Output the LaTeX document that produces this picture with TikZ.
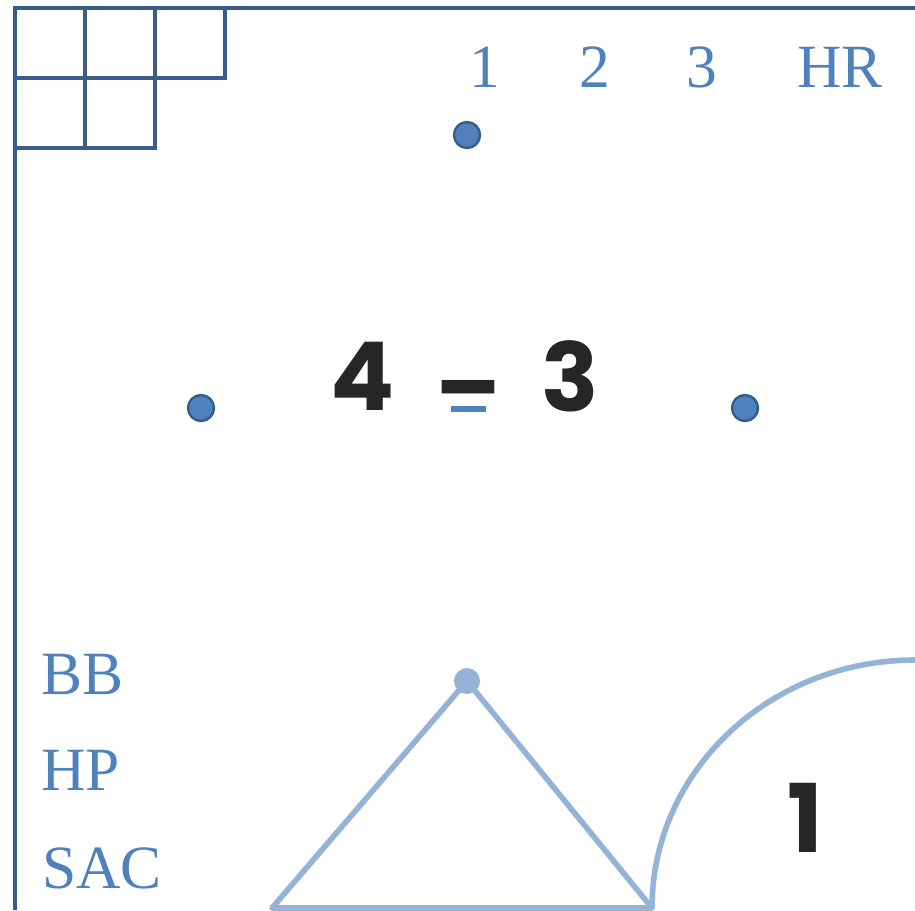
\documentclass[tikz,border=0pt]{standalone}
\usepackage{fontspec}
\setmainfont{Liberation Serif}
\newfontfamily\handfont{Poppins}
\definecolor{labelblue}{HTML}{4F81BD}
\definecolor{frameblue}{HTML}{385D8A}
\definecolor{paleblue}{HTML}{95B3D7}
\begin{document}
\begin{tikzpicture}[x=0.02cm,y=-0.02cm,
  lbl/.style={font=\fontsize{35}{40}\selectfont,text=labelblue,inner sep=0pt,anchor=base},
  hand/.style={font=\handfont\bfseries\fontsize{54}{60}\selectfont,text=black!85,inner sep=0pt},
  dot/.style={circle,fill=labelblue,draw=frameblue,line width=1.4pt,minimum size=0.52cm,inner sep=0pt},
  frame/.style={draw=frameblue,line width=2pt},
  pale/.style={draw=paleblue,line width=3.2pt}]
\useasboundingbox (0,0) rectangle (915,910);
% frame and grid
\draw[frame] (15,910) -- (15,8) -- (915,8);
\draw[frame] (15,78) -- (225,78) -- (225,8);
\draw[frame] (15,148) -- (155,148) -- (155,8);
\draw[frame] (85,8) -- (85,148);
% top labels
\node[lbl] (one) at (485,87) {1};
\node[lbl] (two) at (595,87) {2};
\node[lbl] (three) at (702,87) {3};
\node[lbl] (hr) at (840,87) {HR};
% left labels
\node[lbl,anchor=base west] (bb) at (41,694) {BB};
\node[lbl,anchor=base west] (hp) at (41,790) {HP};
\node[lbl,anchor=base west] (sac) at (42,888) {SAC};
% dots
\node[dot] (top) at (467,135) {};
\node[dot] (left) at (201,408) {};
\node[dot] (right) at (745,408) {};
% 4 - 3
\node[hand] (four) at (363,376) {4};
\node[hand] (minus) at (468,400) {–};
\node[hand] (threeh) at (570,376) {3};
\fill[labelblue] (451,406) rectangle (486,412);
% triangle and arc
\node[circle,fill=paleblue,minimum size=0.52cm,inner sep=0pt] (apex) at (467,681) {};
\coordinate (bl) at (272,908);
\coordinate (br) at (652,908);
\draw[pale,line join=round] (bl) -- (apex.center) -- (br) -- cycle;
\draw[pale] (br) arc[start angle=180,end angle=90,x radius=263,y radius=-248];
\node[hand] (single) at (805,818) {1};
\end{tikzpicture}
\end{document}
